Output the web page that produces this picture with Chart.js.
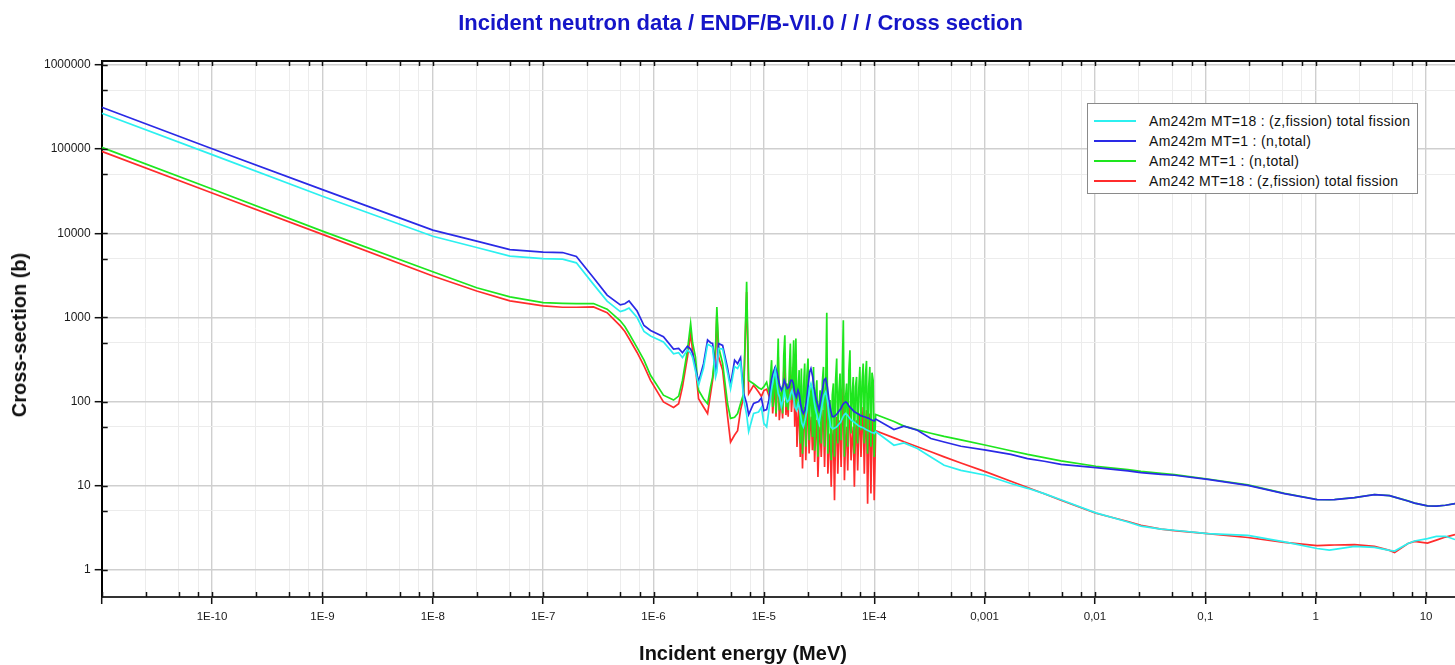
<!DOCTYPE html>
<html>
<head>
<meta charset="utf-8">
<script src="https://cdn.jsdelivr.net/npm/chart.js@4.4.1/dist/chart.umd.min.js"></script>
<style>
html,body{margin:0;padding:0;background:#fff;width:1455px;height:665px;overflow:hidden;font-family:"Liberation Sans",Arial,sans-serif}
#wrap{position:relative;width:1455px;height:665px}
#c{position:absolute;left:0;top:0}
#title{position:absolute;left:740.5px;top:12px;transform:translateX(-50%);white-space:nowrap;font-weight:bold;font-size:22px;line-height:22px;color:#1515c8}
#xtitle{position:absolute;left:743px;top:643px;transform:translateX(-50%);white-space:nowrap;font-weight:bold;font-size:20px;line-height:20px;color:#111}
#ytitle{position:absolute;left:18.5px;top:335px;transform:translate(-50%,-50%) rotate(-90deg);white-space:nowrap;font-weight:bold;font-size:20px;line-height:20px;color:#111}
#legend{position:absolute;left:1087px;top:103px;width:331px;height:91px;border:1px solid #8a8a8a;background:#fff;box-sizing:border-box}
.row{position:absolute;left:0;height:20px;width:100%}
.sw{position:absolute;left:6px;top:9px;width:42px;height:2px}
.lt{position:absolute;left:61px;top:2px;font-size:14px;line-height:16px;letter-spacing:0.3px;color:#111;white-space:nowrap}
</style>
</head>
<body>
<div id="wrap">
<canvas id="c" width="1455" height="665"></canvas>
<div id="title">Incident neutron data / ENDF/B-VII.0 / / / Cross section</div>
<div id="xtitle">Incident energy (MeV)</div>
<div id="ytitle">Cross-section (b)</div>
<div id="legend"></div>
</div>
<script>
// ---- Am242m (metastable) : incident energy grid (MeV) ----
const energyAm242m = [
1e-11,1e-10,1e-9,1e-8,2.5e-8,5e-8,1e-7,1.5e-7,2e-7,2.86e-7,
3.8e-7,5e-7,5.5e-7,6e-7,7.1e-7,8.2e-7,9.4e-7,1.23e-6,1.52e-6,1.69e-6,
1.83e-6,2.03e-6,2.17e-6,2.26e-6,2.40e-6,2.56e-6,2.84e-6,3.09e-6,3.29e-6,3.43e-6,
3.65e-6,3.75e-6,3.89e-6,4.23e-6,4.69e-6,4.99e-6,5.43e-6,5.78e-6,6.15e-6,6.55e-6,
6.98e-6,7.28e-6,8.07e-6,8.95e-6,9.5e-6,1.0e-5,1.06e-5,1.11e-5,1.17e-5,1.22e-5,
1.27e-5,1.31e-5,1.35e-5,1.39e-5,1.44e-5,1.49e-5,1.53e-5,1.57e-5,1.63e-5,1.69e-5,
1.75e-5,1.80e-5,1.85e-5,1.91e-5,1.97e-5,2.04e-5,2.09e-5,2.15e-5,2.21e-5,2.28e-5,
2.36e-5,2.44e-5,2.51e-5,2.60e-5,2.67e-5,2.77e-5,2.84e-5,2.94e-5,3.05e-5,3.16e-5,
3.27e-5,3.39e-5,3.51e-5,3.63e-5,3.76e-5,3.89e-5,4.03e-5,4.17e-5,4.32e-5,4.48e-5,
4.63e-5,4.80e-5,4.97e-5,5.14e-5,5.32e-5,5.51e-5,5.71e-5,5.91e-5,6.12e-5,6.34e-5,
6.56e-5,6.79e-5,7.03e-5,7.28e-5,7.55e-5,7.81e-5,8.09e-5,8.38e-5,8.67e-5,8.98e-5,
9.30e-5,9.62e-5,9.82e-5,1.0e-4,1.03e-4,1.51e-4,1.86e-4,2.46e-4,3.26e-4,4.3e-4,
6.1e-4,1.03e-3,1.73e-3,2.45e-3,3.47e-3,4.92e-3,1.02e-2,1.99e-2,0.0261,0.0398,
0.0525,0.105,0.243,0.521,1.03,1.33,1.48,2.25,3.41,4.67,
5.19,6.86,7.87,10.3,12.4,15,18.3
];
// Am242m MT=18 (z,fission) total fission  (cyan), barns
const am242mFission = [
267000,86000,27500,9200,6770,5350,5000,4920,4450,2470,
1560,1170,1220,1290,995,680,600,511,370,380,
334,410,375,334,230,156,250,480,460,440,
195,225,427,420,220,142,260,247,290,108,
70,44,72,75,85,55,50,79,136,188,
236,164,124,113,86,104,136,113,99,104,
124,136,119,86,79,95,86,69,55,50,
60,75,104,149,164,136,104,79,66,55,
72,95,119,130,104,69,50,48,48,49,
51,54,57,63,69,72,69,65,61,59,
57,55,53,51,50,49,48,46.5,45.6,44.5,
43.5,42.7,42.4,41.6,44,30.2,32.2,27.6,21.9,17.5,
15.2,13.3,10.6,9.3,8.05,6.8,4.75,3.7,3.3,3.05,
2.95,2.69,2.57,2.15,1.79,1.71,1.75,1.9,1.85,1.7,
1.67,2.05,2.2,2.35,2.5,2.5,2.29
];
// Am242m MT=1 (n,total)  (blue), barns
const am242mTotal = [
314000,101000,33000,10900,8050,6400,5970,5900,5300,2960,
1840,1410,1450,1570,1190,800,700,590,420,428,
380,455,420,372,250,171,282,540,500,490,
236,260,490,465,250,157,310,282,333,125,
95,70,95,100,110,78,80,104,179,225,
258,225,188,156,136,149,179,164,143,149,
179,179,164,124,113,136,124,95,79,72,
79,104,149,225,247,196,149,113,95,79,
104,136,179,188,149,104,79,66,66,69,
72,77,82,90,96,99,95,88,84,80,
76,74,72,70,68,67,66,65,64,63,
61,60,59.4,58.8,62,46.5,50.9,45.6,36.3,33,
29.4,26.4,23.5,21,19.5,17.9,16.4,15,14.3,13.6,
13.3,11.9,10.1,8.05,6.84,6.8,6.84,7.2,7.84,7.6,
7.3,6.58,6.2,5.74,5.7,5.85,6.13
];

// ---- Am242 (ground state) : incident energy grid (MeV) ----
const energyAm242 = [
1e-11,1e-10,1e-9,1e-8,2.5e-8,5e-8,1e-7,1.5e-7,2e-7,2.86e-7,
3.8e-7,5e-7,5.5e-7,6e-7,7.1e-7,8.2e-7,9.4e-7,1.23e-6,1.52e-6,1.69e-6,
1.83e-6,2.03e-6,2.17e-6,2.26e-6,2.40e-6,2.56e-6,2.84e-6,3.09e-6,3.29e-6,3.43e-6,
3.65e-6,3.75e-6,3.89e-6,4.23e-6,4.69e-6,4.99e-6,5.43e-6,5.78e-6,6.15e-6,6.55e-6,
6.98e-6,7.28e-6,8.07e-6,8.95e-6,9.5e-6,1.0e-5,1.06e-5,
1.122e-5,1.148e-5,1.175e-5,1.202e-5,1.230e-5,1.259e-5,1.288e-5,1.318e-5,1.349e-5,1.380e-5,
1.413e-5,1.445e-5,1.479e-5,1.514e-5,1.549e-5,1.585e-5,1.622e-5,1.660e-5,1.698e-5,1.738e-5,
1.778e-5,1.820e-5,1.862e-5,1.905e-5,1.950e-5,1.995e-5,2.042e-5,2.089e-5,2.138e-5,2.188e-5,
2.239e-5,2.291e-5,2.344e-5,2.399e-5,2.455e-5,2.512e-5,2.570e-5,2.630e-5,2.692e-5,2.754e-5,
2.818e-5,2.884e-5,2.951e-5,3.020e-5,3.090e-5,3.162e-5,3.236e-5,3.311e-5,3.388e-5,3.467e-5,
3.548e-5,3.631e-5,3.715e-5,3.802e-5,3.890e-5,3.981e-5,4.074e-5,4.169e-5,4.266e-5,4.365e-5,
4.467e-5,4.571e-5,4.677e-5,4.786e-5,4.898e-5,5.012e-5,5.129e-5,5.248e-5,5.370e-5,5.495e-5,
5.623e-5,5.754e-5,5.888e-5,6.026e-5,6.166e-5,6.310e-5,6.457e-5,6.607e-5,6.761e-5,6.918e-5,
7.079e-5,7.244e-5,7.413e-5,7.586e-5,7.762e-5,7.943e-5,8.128e-5,8.318e-5,8.511e-5,8.710e-5,
8.913e-5,9.120e-5,9.333e-5,9.550e-5,9.772e-5,1.0e-4,
1.03e-4,1.51e-4,1.86e-4,2.46e-4,3.26e-4,4.3e-4,
6.1e-4,1.03e-3,1.73e-3,2.45e-3,3.47e-3,4.92e-3,1.02e-2,1.99e-2,0.0261,0.0398,
0.0525,0.105,0.243,0.521,1.03,1.33,1.48,2.25,3.41,4.67,
5.19,6.86,7.87,10.3,12.4,15,18.3
];
// Am242 MT=1 (n,total)  (green), barns
const am242Total = [
105000,33600,10600,3490,2250,1750,1500,1470,1460,1460,
1250,910,780,643,437,310,205,119,104,116,
178,407,847,500,338,136,108,94,149,195,
445,1330,445,283,94,63,65,72,95,124,
2650,178,163,146,140,150,170,
124,200,310,86,150,258,72,180,561,79,
120,136,72,350,614,86,164,79,220,490,
104,180,536,86,561,79,130,236,31.7,247,
24,150,283,29,200,324,34.6,110,149,38,
258,26,120,179,22,90,136,31.7,170,258,
29,140,1132,24,80,104,20,120,164,22,
180,324,31.7,130,215,34.6,200,926,22,110,
164,29,230,407,41.6,120,196,24,150,196,
31.7,140,258,45.6,170,283,31.7,200,304,24,
150,258,29,220,179,21.9,
70,58,51,46,42,38.5,
35,30.2,26,23.5,21.5,19.7,17,15.5,14.8,14.0,
13.5,12.0,10.2,8.1,6.85,6.8,6.85,7.2,7.85,7.6,
7.3,6.6,6.2,5.75,5.7,5.85,6.13
];
// Am242 MT=18 (z,fission) total fission  (red), barns
const am242Fission = [
94000,30100,9700,3100,2060,1570,1370,1320,1320,1330,
1140,793,680,561,383,265,178,99,85,94,
149,338,643,400,258,108,86,72,124,178,
371,1110,338,236,66,33,40,45,79,113,
2000,124,156,130,115,135,140,
113,150,196,72,110,164,66,130,339,60,
90,104,63,220,372,69,113,66,150,258,
75,120,283,50,258,28.9,60,86,21.9,104,
16,60,86,20,70,79,24.1,50,66,26.4,
79,19.1,45,60,12.7,35,50,21.9,55,79,
16.7,60,258,13.9,30,41.6,9.7,35,45.6,6.7,
45,66,13.9,40,60,16.7,60,179,11.6,35,
50,15.2,60,86,20,35,50,9.7,40,60,
15.2,45,72,21.9,50,86,13.9,55,79,6.1,
40,72,8.05,50,60,6.7,
45,37,33.2,29,25.3,22,
18.6,14.6,11.3,9.5,8.0,6.7,4.7,3.75,3.38,3.05,
2.92,2.69,2.42,2.12,1.94,1.96,1.97,1.99,1.9,1.7,
1.6,2.05,2.18,2.08,2.25,2.45,2.62
];

const seriesNames = [
'Am242m MT=18 : (z,fission) total fission',
'Am242m MT=1 : (n,total)',
'Am242 MT=1 : (n,total)',
'Am242 MT=18 : (z,fission) total fission'
];
const seriesColors = ['#2cf0f0','#2a2ae6','#1ee61e','#ff2c2c'];

const xDecades = [1e-11,1e-10,1e-9,1e-8,1e-7,1e-6,1e-5,1e-4,1e-3,1e-2,1e-1,1,10];
const xTickLabels = ['','1E-10','1E-9','1E-8','1E-7','1E-6','1E-5','1E-4','0,001','0,01','0,1','1','10'];
const xMinorSteps = [2.5,5,7.5];
const yDecades = [1,10,100,1000,10000,100000,1000000];
const yTickLabels = ['1','10','100','1000','10000','100000','1000000'];
const yMinorSteps = [5];

const allSeries = [
  {e:energyAm242m, v:am242mFission},
  {e:energyAm242m, v:am242mTotal},
  {e:energyAm242,  v:am242Total},
  {e:energyAm242,  v:am242Fission}
];
allSeries.forEach((s,i)=>{ if(s.v.length!==s.e.length) throw new Error('series '+i+' length '+s.v.length+' vs '+s.e.length); });

const X_MIN = 1e-11, X_MAX = 18.3, Y_MIN = 0.475, Y_MAX = 1.115e6;

function buildTicks(decades, minors, min, max){
  const t = [];
  decades.forEach(d=>{
    if (d>=min*0.999 && d<=max) t.push({value:d, major:true});
    minors.forEach(m=>{ const v=d*m; if(v>=min && v<=max) t.push({value:v, major:false}); });
  });
  t.sort((a,b)=>a.value-b.value);
  return t;
}
function labelFor(value, decades, labels){
  const i = decades.findIndex(d=>Math.abs(Math.log10(d)-Math.log10(value))<1e-6);
  return i>=0 ? labels[i] : '';
}

const tickMarks = {
  id:'tickMarks',
  afterDraw(chart){
    const {ctx, chartArea:a, scales:{x,y}} = chart;
    ctx.save();
    ctx.strokeStyle = '#111';
    ctx.lineWidth = 2;
    ctx.beginPath(); ctx.moveTo(a.left, a.top); ctx.lineTo(a.right, a.top); ctx.stroke();
    ctx.lineWidth = 1.5;
    ctx.beginPath();
    x.ticks.forEach(t=>{
      const px = Math.round(x.getPixelForValue(t.value))+0.5;
      ctx.moveTo(px, a.bottom); ctx.lineTo(px, a.bottom-5);
      ctx.moveTo(px, a.top); ctx.lineTo(px, a.top+5);
    });
    y.ticks.forEach(t=>{
      const py = Math.round(y.getPixelForValue(t.value))+0.5;
      ctx.moveTo(a.left, py); ctx.lineTo(a.left+6, py);
    });
    ctx.stroke();
    ctx.restore();
  }
};

const datasets = allSeries.map((s,i)=>({
  label: seriesNames[i],
  data: s.e.map((e,k)=>({x:e, y:s.v[k]})),
  borderColor: seriesColors[i],
  backgroundColor: seriesColors[i],
  borderWidth: 1.7,
  pointRadius: 0,
  fill: false,
  tension: 0
}));

new Chart(document.getElementById('c'), {
  type:'line',
  data:{datasets},
  options:{
    responsive:false,
    animation:false,
    parsing:false,
    normalized:true,
    layout:{padding:{top:61,right:0,bottom:0,left:0}},
    plugins:{legend:{display:false}, tooltip:{enabled:false}, title:{display:false}},
    scales:{
      x:{
        type:'logarithmic', min:X_MIN, max:X_MAX,
        afterBuildTicks(scale){ scale.ticks = buildTicks(xDecades, xMinorSteps, X_MIN, X_MAX); },
        afterFit(scale){ scale.height = 68; },
        ticks:{autoSkip:false, maxRotation:0, minRotation:0, padding:6, color:'#1a1a1a',
          font:{family:'"Liberation Sans", Arial, sans-serif', size:11.5},
          callback:(v)=>labelFor(v, xDecades, xTickLabels)},
        grid:{
          color:(c)=> c.tick && c.tick.major ? '#cfcfcf' : '#ececec',
          lineWidth:(c)=> c.tick && c.tick.major ? 1.4 : 1,
          tickLength:7,
          tickColor:(c)=> c.tick && c.tick.major ? '#111' : 'rgba(0,0,0,0)',
          tickWidth:1.5
        },
        border:{display:true, color:'#333', width:2}
      },
      y:{
        type:'logarithmic', min:Y_MIN, max:Y_MAX,
        afterBuildTicks(scale){ scale.ticks = buildTicks(yDecades, yMinorSteps, Y_MIN, Y_MAX); },
        afterFit(scale){ scale.width = 101.7; },
        ticks:{autoSkip:false, padding:4, color:'#1a1a1a',
          font:{family:'"Liberation Sans", Arial, sans-serif', size:12},
          callback:(v)=>labelFor(v, yDecades, yTickLabels)},
        grid:{
          color:(c)=> c.tick && c.tick.major ? '#cfcfcf' : '#ececec',
          lineWidth:(c)=> c.tick && c.tick.major ? 1.4 : 1,
          tickLength:7,
          tickColor:(c)=> c.tick && c.tick.major ? '#111' : 'rgba(0,0,0,0)',
          tickWidth:1.5
        },
        border:{display:true, color:'#000', width:2}
      }
    }
  },
  plugins:[tickMarks]
});

// legend (HTML text built from the series arrays)
const lg = document.getElementById('legend');
seriesNames.forEach((n,i)=>{
  const r = document.createElement('div');
  r.className='row'; r.style.top = (7+20*i)+'px';
  const sw = document.createElement('div'); sw.className='sw'; sw.style.background = seriesColors[i];
  const t = document.createElement('div'); t.className='lt'; t.textContent = n;
  r.appendChild(sw); r.appendChild(t); lg.appendChild(r);
});
</script>
</body>
</html>
